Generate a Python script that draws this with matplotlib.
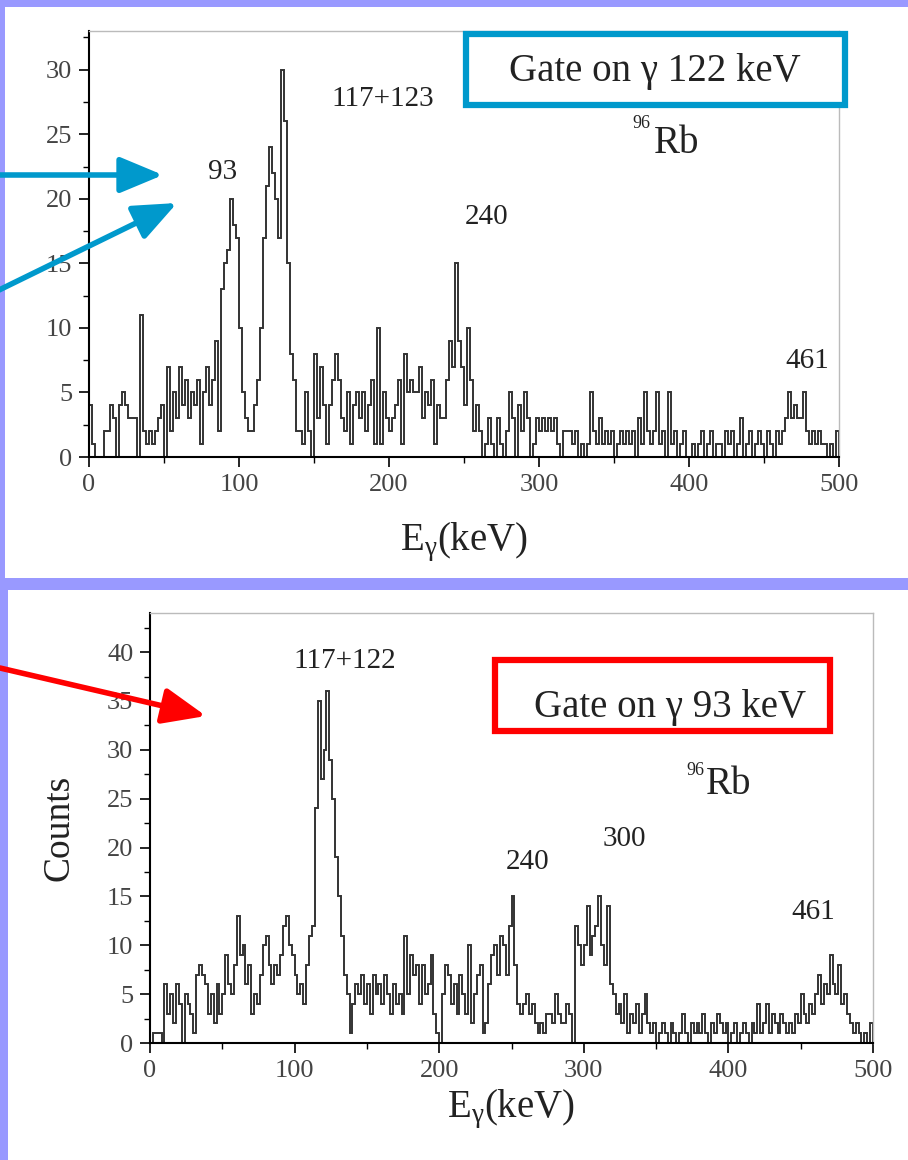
import numpy as np
import matplotlib
matplotlib.use("Agg")
import matplotlib.pyplot as plt
from matplotlib.patches import Rectangle
from matplotlib.ticker import MultipleLocator

plt.rcParams['font.family'] = ['Liberation Serif', 'DejaVu Serif']
plt.rcParams['mathtext.fontset'] = 'custom'
plt.rcParams['mathtext.rm'] = 'Liberation Serif'
plt.rcParams['mathtext.it'] = 'Liberation Serif:italic'

# ---------------- data (2 keV bins, lower edges 0..498) ----------------
bin_width = 2
top_counts = [
    4, 1, 0, 0, 0, 2, 2, 4, 3, 0,
    4, 5, 4, 3, 3, 3, 0, 11, 2, 1,
    2, 1, 2, 3, 4, 0, 7, 2, 5, 3,
    7, 4, 6, 3, 5, 4, 6, 1, 5, 7,
    4, 6, 9, 2, 13, 15, 16, 20, 18, 17,
    10, 5, 3, 2, 2, 4, 6, 10, 17, 21,
    24, 22, 20, 17, 30, 26, 15, 8, 6, 2,
    2, 1, 5, 2, 0, 8, 3, 7, 4, 1,
    4, 6, 8, 6, 3, 2, 5, 1, 4, 5,
    3, 5, 2, 4, 6, 1, 10, 1, 5, 3,
    2, 3, 4, 6, 1, 8, 5, 6, 5, 5,
    7, 3, 5, 4, 6, 1, 4, 3, 3, 6,
    9, 7, 15, 9, 7, 4, 10, 6, 2, 4,
    2, 0, 1, 3, 1, 0, 3, 1, 0, 2,
    5, 3, 0, 4, 2, 5, 3, 0, 1, 3,
    2, 3, 2, 3, 2, 3, 1, 0, 2, 2,
    2, 1, 2, 0, 1, 0, 1, 5, 2, 1,
    3, 1, 2, 1, 2, 0, 1, 2, 1, 2,
    1, 2, 0, 3, 1, 5, 2, 1, 2, 5,
    1, 2, 0, 5, 1, 2, 0, 1, 2, 0,
    0, 1, 0, 1, 2, 0, 1, 2, 0, 1,
    1, 0, 2, 1, 2, 0, 1, 3, 0, 1,
    2, 0, 1, 2, 1, 0, 2, 1, 0, 2,
    1, 2, 3, 5, 3, 4, 3, 3, 5, 2,
    1, 2, 1, 2, 1, 1, 0, 1, 0, 2,
]
bottom_counts = [
    0, 1, 1, 1, 0, 6, 3, 5, 2, 6,
    4, 0, 5, 4, 3, 1, 7, 8, 7, 6,
    3, 5, 2, 6, 3, 5, 9, 6, 5, 8,
    13, 9, 10, 6, 8, 3, 5, 4, 7, 10,
    11, 8, 6, 8, 7, 9, 12, 13, 10, 9,
    7, 5, 6, 4, 8, 11, 12, 24, 35, 27,
    30, 36, 29, 25, 19, 15, 11, 7, 5, 1,
    4, 6, 5, 7, 4, 6, 3, 7, 5, 6,
    4, 7, 5, 3, 6, 4, 5, 3, 11, 5,
    9, 7, 8, 4, 8, 5, 6, 9, 3, 1,
    0, 5, 8, 7, 4, 6, 3, 7, 5, 3,
    10, 2, 5, 7, 8, 1, 2, 6, 9, 10,
    7, 11, 10, 7, 12, 15, 8, 4, 3, 4,
    5, 3, 4, 2, 1, 2, 1, 3, 3, 2,
    5, 3, 2, 2, 4, 3, 0, 12, 10, 8,
    10, 14, 9, 11, 12, 15, 10, 8, 14, 6,
    5, 3, 4, 2, 5, 1, 3, 2, 4, 1,
    3, 5, 2, 1, 2, 0, 1, 2, 1, 0,
    2, 1, 0, 1, 3, 1, 0, 2, 1, 2,
    1, 3, 1, 0, 2, 1, 3, 2, 1, 2,
    0, 1, 2, 0, 1, 2, 1, 0, 2, 1,
    4, 1, 2, 4, 1, 3, 2, 1, 3, 2,
    1, 2, 1, 3, 2, 5, 3, 2, 4, 3,
    5, 7, 4, 6, 5, 9, 6, 5, 8, 4,
    5, 3, 2, 1, 2, 1, 0, 1, 0, 2,
]
x_ticks = [0, 100, 200, 300, 400, 500]
top_yticks = [0, 5, 10, 15, 20, 25, 30]
bottom_yticks = [0, 5, 10, 15, 20, 25, 30, 35, 40]
top_peaks = ["117+123", "93", "240", "461"]
bottom_peaks = ["117+122", "240", "300", "461"]

# ---------------- figure ----------------
W, H = 908, 1160
fig = plt.figure(figsize=(W / 100, H / 100), dpi=100)
fig.patch.set_facecolor('#9999ff')

def fr(x0, y0, x1, y1):
    """pixel box -> figure fraction rect"""
    return [x0 / W, 1 - y1 / H, (x1 - x0) / W, (y1 - y0) / H]

# white panels (behind the axes)
fig.patches.append(Rectangle((5 / W, 1 - 578 / H), (W - 5) / W, (578 - 7) / H,
                             transform=fig.transFigure, facecolor='white', edgecolor='none', zorder=-5))
fig.patches.append(Rectangle((8 / W, 0), (W - 8) / W, (1160 - 590) / H,
                             transform=fig.transFigure, facecolor='white', edgecolor='none', zorder=-5))

line_col = '#333333'
tick_col = '#444444'
txt_col = '#222222'

def style_axes(ax, ymax, yticks, ymin_step):
    ax.set_xlim(0, 500)
    ax.set_ylim(0, ymax)
    ax.set_xticks(x_ticks)
    ax.set_yticks(yticks)
    ax.xaxis.set_minor_locator(MultipleLocator(50))
    ax.yaxis.set_minor_locator(MultipleLocator(ymin_step))
    for s in ['top', 'right']:
        ax.spines[s].set_color('#bbbbbb')
        ax.spines[s].set_linewidth(1.0)
    for s in ['left', 'bottom']:
        ax.spines[s].set_color('black')
        ax.spines[s].set_linewidth(1.5)
    ax.tick_params(which='both', direction='out', top=False, right=False,
                   colors='black', labelcolor=tick_col, labelsize=19)
    ax.tick_params(which='major', length=7, width=1.2, pad=5)
    ax.tick_params(which='minor', length=4, width=1.0)
    ax.set_facecolor('none')

edges = np.arange(0, 500 + bin_width, bin_width)

# top axes
ax1 = fig.add_axes(fr(89, 31, 839, 457))
ax1.stairs(top_counts, edges, color=line_col, linewidth=1.4)
style_axes(ax1, 33, top_yticks, 2.5)
ax1.set_xlabel(r'E$_{\mathrm{γ}}$(keV)', fontsize=28, color=txt_col, labelpad=18)
tk = dict(fontsize=21, color=txt_col, ha='center', va='center')
ax1.text(196, 27.7, top_peaks[0], **tk)
ax1.text(89, 22.1, top_peaks[1], **tk)
ax1.text(265, 18.6, top_peaks[2], **tk)
ax1.text(479, 7.4, top_peaks[3], **tk)
ax1.text(392, 24.3, 'Rb', fontsize=28, color=txt_col, ha='center', va='center')
ax1.text(368, 25.8, '96', fontsize=13, color=txt_col, ha='center', va='center')

# bottom axes
ax2 = fig.add_axes(fr(150, 613, 873, 1043))
ax2.stairs(bottom_counts, edges, color=line_col, linewidth=1.4)
style_axes(ax2, 44, bottom_yticks, 2.5)
ax2.set_xlabel(r'E$_{\mathrm{γ}}$(keV)', fontsize=28, color=txt_col, labelpad=4)
ax2.set_ylabel('Counts', fontsize=27, color=txt_col, labelpad=22)
ax2.text(135, 39.1, bottom_peaks[0], **tk)
ax2.text(261, 18.5, bottom_peaks[1], **tk)
ax2.text(328, 20.9, bottom_peaks[2], **tk)
ax2.text(459, 13.4, bottom_peaks[3], **tk)
ax2.text(400, 26.4, 'Rb', fontsize=28, color=txt_col, ha='center', va='center')
ax2.text(377, 27.9, '96', fontsize=13, color=txt_col, ha='center', va='center')

# overlay in pixel coordinates for boxes and arrows
ov = fig.add_axes([0, 0, 1, 1])
ov.set_xlim(0, W)
ov.set_ylim(H, 0)
ov.axis('off')
ov.set_facecolor('none')
ov.set_zorder(10)

blue = '#0099cc'
red = '#ff0000'
ov.add_patch(Rectangle((466, 34), 379, 71, facecolor='white', edgecolor=blue, linewidth=4.5))
ov.text(655, 71, 'Gate on γ 122 keV', fontsize=28, color=txt_col, ha='center', va='center')
ov.add_patch(Rectangle((495, 660), 335, 71, facecolor='white', edgecolor=red, linewidth=4.5))
ov.text(670, 707, 'Gate on γ 93 keV', fontsize=28, color=txt_col, ha='center', va='center')

arr = dict(arrowstyle='-|>,head_length=1.2,head_width=0.5', lw=4, mutation_scale=22,
           shrinkA=0, shrinkB=0)
ov.annotate('', xy=(163, 175), xytext=(0, 175), arrowprops=dict(color=blue, **arr),
            annotation_clip=False)
ov.annotate('', xy=(177, 203), xytext=(-5, 292), arrowprops=dict(color=blue, **arr),
            annotation_clip=False)
ov.annotate('', xy=(206, 716), xytext=(0, 668), arrowprops=dict(color=red, **arr),
            annotation_clip=False)

fig.savefig('out.png', dpi=100, facecolor=fig.get_facecolor())
